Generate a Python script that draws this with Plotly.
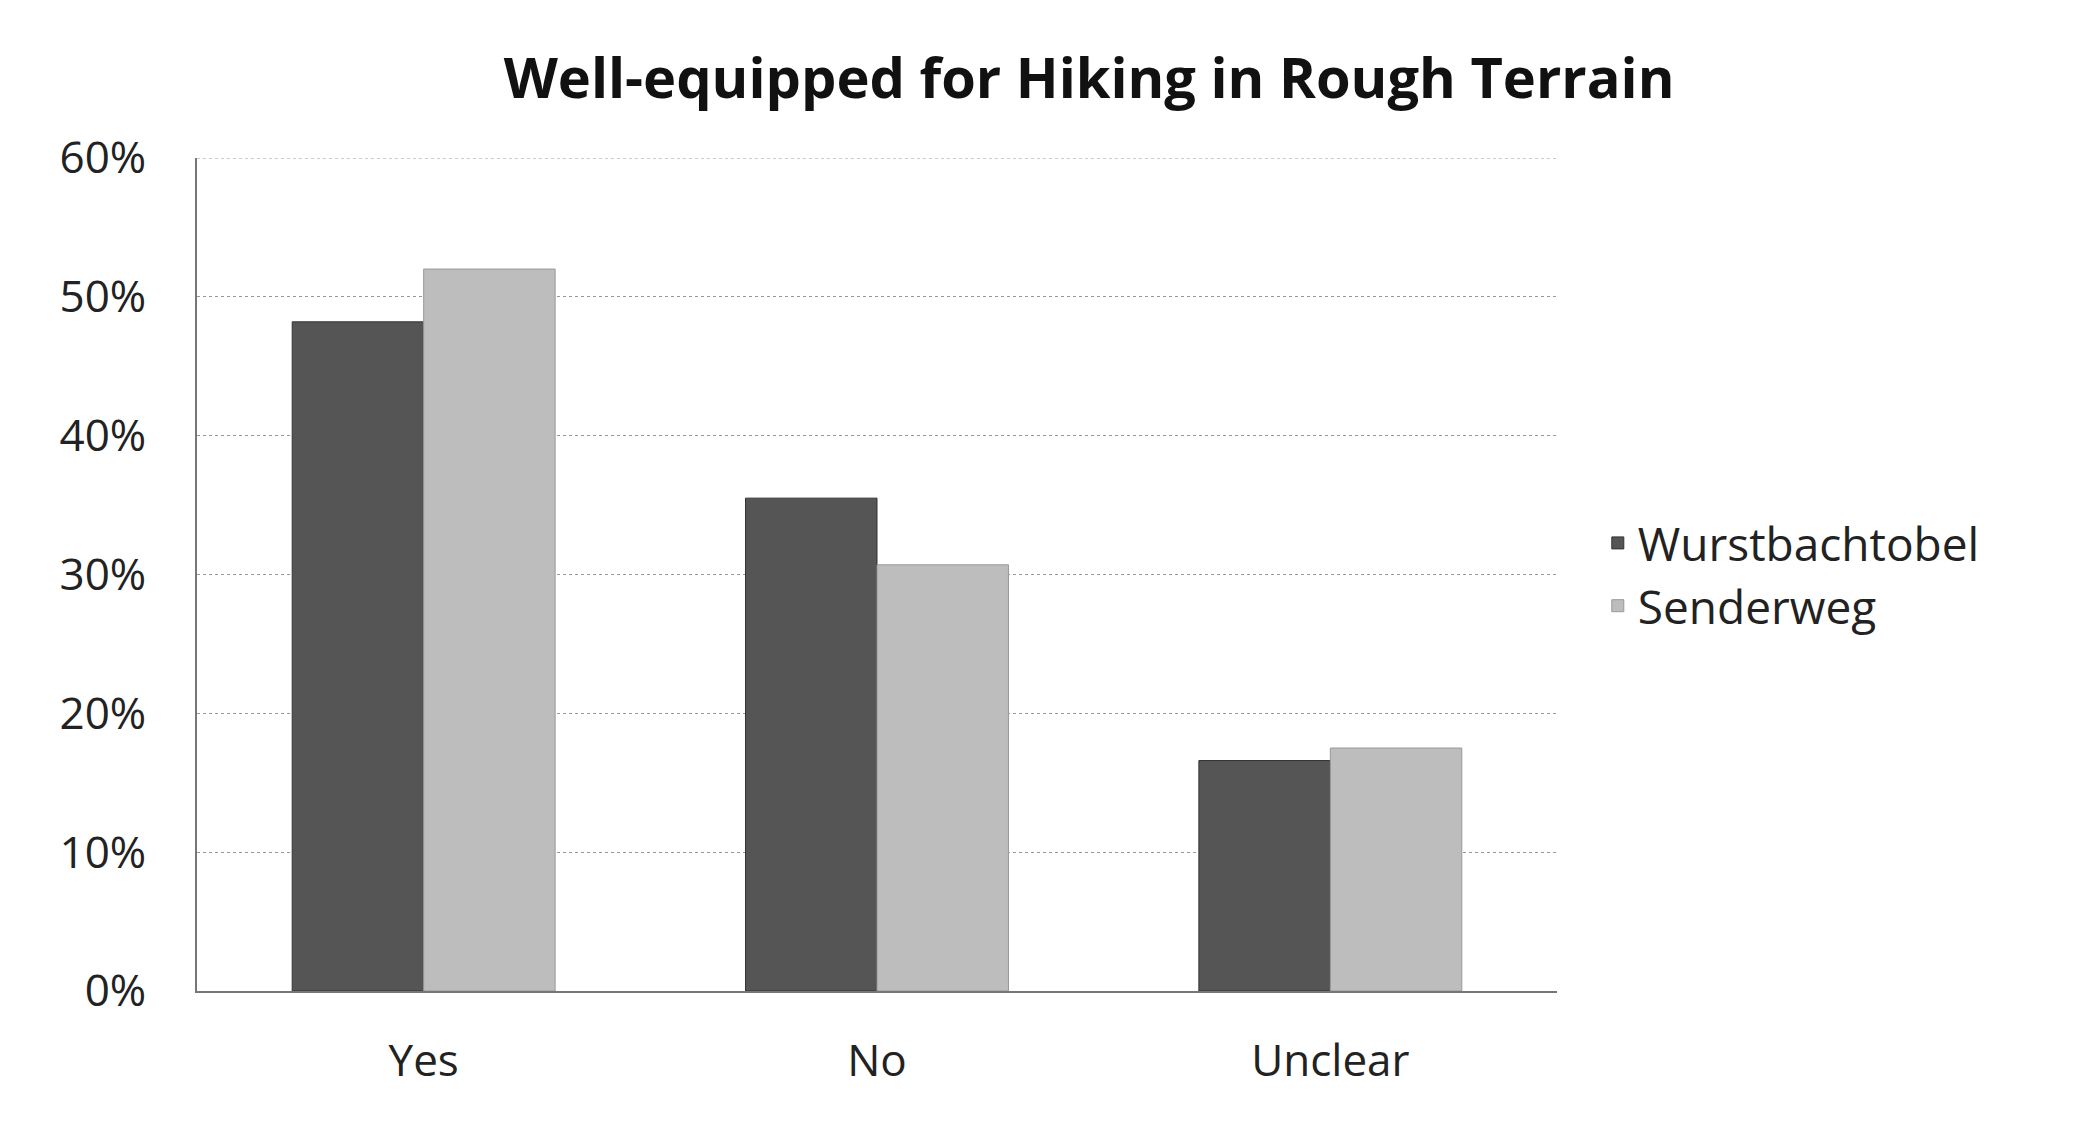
import plotly.graph_objects as go

categories = ["Yes", "No", "Unclear"]
wurst = [0.482, 0.355, 0.166]
sender = [0.520, 0.307, 0.175]

fig = go.Figure()
fig.add_bar(x=categories, y=wurst, name="Wurstbachtobel", marker=dict(color="#555555", line=dict(color="#333333", width=1)))
fig.add_bar(x=categories, y=sender, name="Senderweg", marker=dict(color="#bdbdbd", line=dict(color="#999999", width=1)))

fig.update_layout(
    width=2079, height=1123,
    paper_bgcolor="white", plot_bgcolor="white",
    font=dict(family="Open Sans", size=44, color="#222"),
    title=dict(text="<b>Well-equipped for Hiking in Rough Terrain</b>", x=0.52, xanchor="center", y=0.955, font=dict(size=56, color="#111")),
    margin=dict(l=189, r=530, t=150, b=140),
    barmode="group", bargap=0.42, bargroupgap=0,
    legend=dict(x=1.03, y=0.5, yanchor="middle", font=dict(size=46), itemwidth=30, tracegroupgap=10),
    showlegend=True,
)
fig.add_shape(type="line", xref="paper", yref="y", x0=0, x1=1, y0=0.6, y1=0.6,
              line=dict(color="#999999", width=1, dash="dot"))
fig.update_yaxes(range=[0, 0.6], dtick=0.1, tickformat=".0%", showgrid=True, gridcolor="#999999", griddash="dot",
                 showline=True, linecolor="#777777", linewidth=2, ticks="", ticklabelstandoff=40)
fig.update_xaxes(showline=True, linecolor="#777777", linewidth=2, ticklabelstandoff=30)
fig.write_html("out.html")
